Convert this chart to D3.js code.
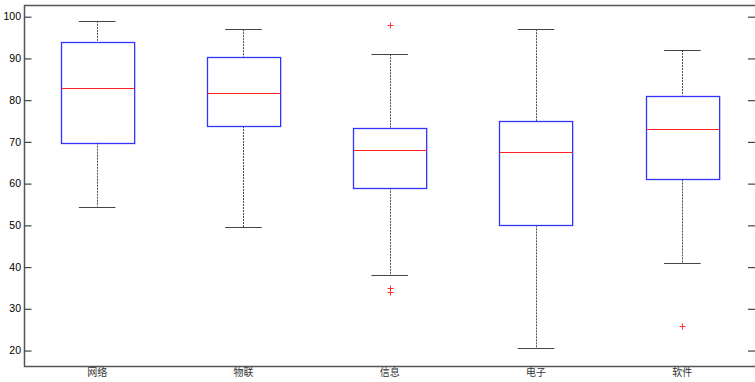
<!DOCTYPE html>
<html>
<head>
<meta charset="utf-8">
<script src="https://cdn.jsdelivr.net/npm/d3@7"></script>
<style>
  body { margin: 0; background: #fff; }
  svg { display: block; }
</style>
</head>
<body>
<svg id="chart" width="755" height="382"></svg>
<script>
// groups on the x axis
var categories = ['网络', '物联', '信息', '电子', '软件'];
// box statistics
var whiskerHigh = [99, 97, 91, 97, 92];
var q3 = [94, 90.4, 73.4, 74.9, 81.1];
var medians = [83, 81.6, 68, 67.5, 73];
var q1 = [69.8, 73.8, 59, 50, 61];
var whiskerLow = [54.5, 49.5, 38, 20.5, 41];
// outliers as [group index, value]
var outliers = [[2, 98], [2, 35], [2, 34], [4, 26]];
var yTicks = [20, 30, 40, 50, 60, 70, 80, 90, 100];

// plot area edges (window.top is reserved, so use other names)
var pLeft = 24, pRight = 755.5, pTop = 5, pBottom = 366;

var svg = d3.select("#chart");

var xScale = d3.scaleLinear()
    .domain([0.5, categories.length + 0.5])
    .range([pLeft, pRight]);

var yScale = d3.scaleLinear()
    .domain([16.3, 102.8])
    .range([pBottom, pTop]);

var step = xScale(2) - xScale(1);
var boxW = step * 0.5;
var capW = step * 0.25;

function snap(v) { return Math.round(v) + 0.5; }

var boxes = categories.map(function (c, i) {
    return {name: c, x: xScale(i + 1), hi: whiskerHigh[i], q3: q3[i], med: medians[i], q1: q1[i], lo: whiskerLow[i]};
});

var g = svg.append("g");

// whiskers (dashed)
g.selectAll(".whUp").data(boxes).enter().append("line")
    .attr("x1", function (d) { return snap(d.x); }).attr("x2", function (d) { return snap(d.x); })
    .attr("y1", function (d) { return yScale(d.hi); }).attr("y2", function (d) { return yScale(d.q3); })
    .attr("stroke", "#222").attr("stroke-width", 0.8).attr("stroke-dasharray", "2,1");
g.selectAll(".whLo").data(boxes).enter().append("line")
    .attr("x1", function (d) { return snap(d.x); }).attr("x2", function (d) { return snap(d.x); })
    .attr("y1", function (d) { return yScale(d.q1); }).attr("y2", function (d) { return yScale(d.lo); })
    .attr("stroke", "#222").attr("stroke-width", 0.8).attr("stroke-dasharray", "2,1");

// caps
["hi", "lo"].forEach(function (k) {
    g.selectAll(".cap-" + k).data(boxes).enter().append("line")
        .attr("x1", function (d) { return d.x - capW / 2; })
        .attr("x2", function (d) { return d.x + capW / 2; })
        .attr("y1", function (d) { return snap(yScale(d[k])); })
        .attr("y2", function (d) { return snap(yScale(d[k])); })
        .attr("stroke", "#444").attr("stroke-width", 1.2);
});

// boxes
g.selectAll(".box").data(boxes).enter().append("rect")
    .attr("x", function (d) { return snap(d.x - boxW / 2); })
    .attr("y", function (d) { return snap(yScale(d.q3)); })
    .attr("width", boxW)
    .attr("height", function (d) { return Math.round(yScale(d.q1)) - Math.round(yScale(d.q3)); })
    .attr("fill", "none").attr("stroke", "#3333ff").attr("stroke-width", 1.3);

// medians
g.selectAll(".med").data(boxes).enter().append("line")
    .attr("x1", function (d) { return snap(d.x - boxW / 2); })
    .attr("x2", function (d) { return snap(d.x - boxW / 2) + boxW; })
    .attr("y1", function (d) { return snap(yScale(d.med)); })
    .attr("y2", function (d) { return snap(yScale(d.med)); })
    .attr("stroke", "#ff2222").attr("stroke-width", 1.2);

// outliers as red plus signs
var pts = g.selectAll(".out").data(outliers).enter().append("g")
    .attr("transform", function (d) {
        return "translate(" + snap(xScale(d[0] + 1)) + "," + snap(yScale(d[1])) + ")";
    });
pts.append("line").attr("x1", -3).attr("x2", 3).attr("y1", 0).attr("y2", 0).attr("stroke", "#ff3333");
pts.append("line").attr("x1", 0).attr("x2", 0).attr("y1", -3).attr("y2", 3).attr("stroke", "#ff3333");

// frame
svg.append("rect")
    .attr("x", pLeft + 0.5).attr("y", pTop + 0.5)
    .attr("width", pRight - pLeft).attr("height", pBottom - pTop)
    .attr("fill", "none").attr("stroke", "#555").attr("stroke-width", 1.5);

// y axis left with inward ticks
var yAxisL = svg.append("g")
    .attr("transform", "translate(" + (pLeft + 0.5) + ",0)")
    .call(d3.axisRight(yScale).tickValues(yTicks).tickSize(7).tickFormat(""));
yAxisL.select(".domain").remove();
yAxisL.selectAll("line").attr("stroke", "#444").attr("stroke-width", 1.2);
svg.selectAll(".ylab").data(yTicks).enter().append("text")
    .attr("x", pLeft - 3)
    .attr("y", function (t) { return yScale(t); })
    .attr("dy", "0.35em")
    .attr("text-anchor", "end")
    .style("font-family", "Helvetica, 'Liberation Sans', Arial, sans-serif")
    .style("font-size", "10.5px")
    .text(function (t) { return t; });

// y axis right, ticks only
var yAxisR = svg.append("g")
    .attr("transform", "translate(" + (pRight - 0.5) + ",0)")
    .call(d3.axisLeft(yScale).tickValues(yTicks).tickSize(7).tickFormat(""));
yAxisR.select(".domain").remove();
yAxisR.selectAll("line").attr("stroke", "#444").attr("stroke-width", 1.2);

// category labels
svg.selectAll(".cat").data(boxes).enter().append("text")
    .attr("x", function (d) { return d.x; })
    .attr("y", 376)
    .attr("text-anchor", "middle")
    .style("font-family", "'Noto Sans CJK SC', sans-serif")
    .style("font-size", "10px")
    .style("fill", "#333")
    .text(function (d) { return d.name; });
</script>
</body>
</html>
